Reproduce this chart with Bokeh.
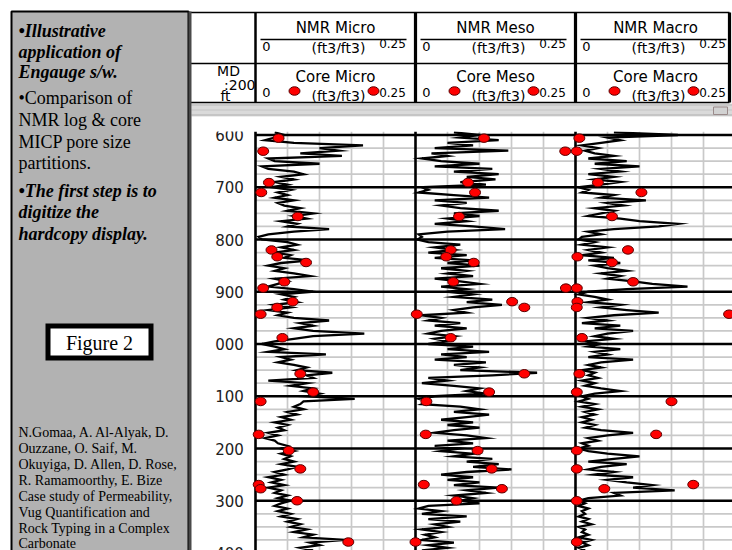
from bokeh.plotting import figure
from bokeh.models import Range1d
from bokeh.core.properties import value
from bokeh.embed import file_html
from bokeh.resources import INLINE

# ---------------- data ----------------
depth_ticks = [600, 700, 800, 900, 1000, 1100, 1200, 1300, 1400]
depth_tick_labels = ["600", "700", "800", "900", "000", "100", "200", "300", "400"]
grid_minor_step = 25
track_max = 0.25
track_grid = [0.05, 0.10, 0.15, 0.20]

nmr_top = 595
nmr_step = 5
nmr_micro = [
    0.03, 0.045, 0.03, 0.015, 0.06, 0.168, 0.10, 0.13, 0.07, 0.135, 0.02, 0.03,
    0.10, 0.01, 0.02, 0.06, 0.075, 0.04, 0.06, 0.03, 0.05, 0.025,
    0.055, 0.035, 0.05, 0.03, 0.06, 0.035, 0.045, 0.07, 0.05, 0.09,
    0.06, 0.08, 0.04, 0.065, 0.05, 0.115, 0.06, 0.02, 0.005, 0.01,
    0.05, 0.065, 0.04, 0.06, 0.03, 0.055, 0.045, 0.085, 0.04, 0.02,
    0.045, 0.03, 0.06, 0.085, 0.03, 0.05, 0.035, 0.02, 0.06, 0.09,
    0.04, 0.06, 0.045, 0.065, 0.03, 0.055, 0.02, 0.05, 0.035, 0.06,
    0.115, 0.07, 0.09, 0.06, 0.09, 0.17, 0.09, 0.06, 0.03, 0.01,
    0.03, 0.045, 0.02, 0.11, 0.04, 0.055, 0.035, 0.06, 0.08, 0.065,
    0.12, 0.08, 0.09, 0.02, 0.08, 0.055, 0.09, 0.075, 0.10, 0.08,
    0.155, 0.075, 0.07, 0.06, 0.075, 0.05, 0.065, 0.04, 0.055, 0.03,
    0.05, 0.035, 0.045, 0.02, 0.035, 0.015, 0.03, 0.035, 0.05, 0.04,
    0.06, 0.04, 0.055, 0.045, 0.06, 0.04, 0.065, 0.05, 0.03, 0.045,
    0.02, 0.04, 0.025, 0.045, 0.02, 0.04, 0.03, 0.05, 0.035, 0.055,
    0.04, 0.03, 0.05, 0.035, 0.055, 0.04, 0.065, 0.05, 0.07, 0.055,
    0.08, 0.06, 0.09, 0.075, 0.14, 0.085, 0.10, 0.07, 0.09,
]
nmr_meso = [
    0.06, 0.10, 0.07, 0.13, 0.05, 0.09, 0.03, 0.145, 0.025, 0.05, 0.01, 0.04,
    0.10, 0.03, 0.12, 0.06, 0.13, 0.08, 0.125, 0.07, 0.11, 0.01,
    0.02, 0.005, 0.06, 0.115, 0.03, 0.08, 0.04, 0.07, 0.13, 0.06,
    0.10, 0.05, 0.08, 0.03, 0.09, 0.14, 0.05, 0.005, 0.01, 0.003,
    0.02, 0.07, 0.03, 0.06, 0.02, 0.08, 0.03, 0.09, 0.05, 0.10,
    0.04, 0.08, 0.05, 0.09, 0.03, 0.07, 0.10, 0.04, 0.08, 0.05,
    0.09, 0.06, 0.12, 0.08, 0.135, 0.09, 0.06, 0.08, 0.01, 0.04,
    0.02, 0.07, 0.03, 0.08, 0.04, 0.02, 0.06, 0.03, 0.05, 0.02,
    0.09, 0.05, 0.115, 0.04, 0.08, 0.03, 0.11, 0.06, 0.10, 0.07,
    0.19, 0.12, 0.02, 0.05, 0.01, 0.06, 0.10, 0.08, 0.11, 0.03,
    0.005, 0.02, 0.01, 0.07, 0.10, 0.06, 0.115, 0.08, 0.04, 0.09,
    0.05, 0.10, 0.06, 0.03, 0.08, 0.11, 0.05, 0.09, 0.03, 0.07,
    0.04, 0.09, 0.06, 0.12, 0.08, 0.13, 0.09, 0.15, 0.08, 0.04,
    0.09, 0.05, 0.10, 0.06, 0.13, 0.08, 0.11, 0.06, 0.09, 0.07,
    0.10, 0.02, 0.005, 0.04, 0.01, 0.08, 0.02, 0.07, 0.03, 0.05,
    0.01, 0.04, 0.015, 0.03, 0.01, 0.06, 0.02, 0.05, 0.01,
]
nmr_macro = [
    0.06, 0.16, 0.05, 0.07, 0.04, 0.01, 0.035, 0.015, 0.03, 0.06, 0.02, 0.08,
    0.03, 0.10, 0.04, 0.07, 0.02, 0.06, 0.03, 0.07, 0.04, 0.005,
    0.02, 0.01, 0.06, 0.04, 0.11, 0.05, 0.075, 0.03, 0.06, 0.04,
    0.02, 0.07, 0.10, 0.16, 0.13, 0.06, 0.02, 0.04, 0.01, 0.005,
    0.03, 0.01, 0.05, 0.02, 0.04, 0.01, 0.06, 0.02, 0.07, 0.03,
    0.05, 0.08, 0.04, 0.07, 0.05, 0.09, 0.12, 0.175, 0.08, 0.02,
    0.005, 0.03, 0.05, 0.02, 0.07, 0.04, 0.08, 0.13, 0.06, 0.02,
    0.05, 0.01, 0.07, 0.03, 0.09, 0.05, 0.03, 0.06, 0.015, 0.04,
    0.02, 0.07, 0.03, 0.05, 0.02, 0.09, 0.04, 0.02, 0.04, 0.01,
    0.03, 0.02, 0.035, 0.01, 0.03, 0.015, 0.04, 0.07, 0.03, 0.01,
    0.02, 0.005, 0.03, 0.01, 0.035, 0.015, 0.03, 0.01, 0.025, 0.01,
    0.03, 0.015, 0.04, 0.09, 0.05, 0.02, 0.035, 0.01, 0.02, 0.005,
    0.02, 0.05, 0.10, 0.06, 0.02, 0.08, 0.04, 0.02, 0.06, 0.03,
    0.09, 0.05, 0.08, 0.12, 0.09, 0.155, 0.06, 0.07, 0.02, 0.005,
    0.015, 0.005, 0.02, 0.01, 0.015, 0.005, 0.02, 0.01, 0.025, 0.005,
    0.015, 0.01, 0.02, 0.005, 0.025, 0.01, 0.02, 0.005, 0.015,
]

core_depth = [606, 631, 691, 710, 756, 820, 833, 844, 881, 893, 919, 930,
              943, 988, 1057, 1092, 1110, 1173, 1204, 1239, 1269, 1277, 1300, 1379]
core_micro = [0.036, 0.012, 0.021, 0.009, 0.066, 0.025, 0.034, 0.079, 0.045, 0.012, 0.058, 0.034,
              0.008, 0.042, 0.070, 0.090, 0.008, 0.005, 0.052, 0.070, 0.005, 0.008, 0.065, 0.145]
core_meso = [0.107, 0.234, 0.082, 0.093, 0.068, 0.055, 0.048, 0.091, 0.059, 0.235, 0.151, 0.170,
             0.002, 0.055, 0.170, 0.115, 0.017, 0.016, 0.097, 0.119, 0.013, 0.135, 0.064, 0.000]
core_macro = [0.006, 0.002, 0.035, 0.103, 0.057, 0.082, 0.003, 0.057, 0.090, 0.002, 0.003, 0.002,
              0.240, 0.010, 0.006, 0.002, 0.150, 0.126, 0.002, 0.002, 0.184, 0.045, 0.002, 0.002]

nmr_titles = ["NMR Micro", "NMR Meso", "NMR Macro"]
core_titles = ["Core Micro", "Core Meso", "Core Macro"]
unit_label = "(ft3/ft3)"
scale_left = "0"
scale_right = "0.25"

panel_lines = [
    ("\u2022Illustrative", "bold italic"),
    ("application of", "bold italic"),
    ("Engauge s/w.", "bold italic"),
    ("\u2022Comparison of", "normal"),
    ("NMR log & core", "normal"),
    ("MICP pore size", "normal"),
    ("partitions.", "normal"),
    ("\u2022The first step is to", "bold italic"),
    ("digitize the", "bold italic"),
    ("hardcopy display.", "bold italic"),
]
citation_lines = [
    "N.Gomaa, A. Al-Alyak, D.",
    "Ouzzane, O. Saif, M.",
    "Okuyiga, D. Allen, D. Rose,",
    "R. Ramamoorthy, E. Bize",
    "Case study of Permeability,",
    "Vug Quantification and",
    "Rock Typing in a Complex",
    "Carbonate",
]

# ---------------- layout constants (page pixels) ----------------
W, H = 732, 550
X0, Y0 = 0, 0
track_left_px = [255, 415, 575]
track_px = 160.0
depth600_px = 134.5
px_per_ft = 0.5225
body_top_px = 131

SANS = value("DejaVu Sans")
SERIF = value("Liberation Serif")

p = figure(width=W, height=H, x_range=Range1d(X0, X0 + W), y_range=Range1d(Y0 + H, Y0),
           output_backend="svg", toolbar_location=None, min_border=0,
           x_axis_type=None, y_axis_type=None, outline_line_color=None,
           background_fill_color="white", border_fill_color="white")

d_top = 600 + (Y0 - depth600_px) / px_per_ft
d_bot = 600 + (Y0 + H - depth600_px) / px_per_ft
p.extra_y_ranges = {"depth": Range1d(start=d_bot, end=d_top)}
ppv = track_px / track_max
for i, tl in enumerate(track_left_px):
    p.extra_x_ranges["t%d" % (i + 1)] = Range1d(start=(X0 - tl) / ppv, end=(X0 + W - tl) / ppv)

body_top_depth = 600 + (body_top_px - depth600_px) / px_per_ft
minor = list(range(depth_ticks[0], depth_ticks[-1] + 1, grid_minor_step))
thin_h = [d for d in minor if d not in depth_ticks]

nmr_series = [nmr_micro, nmr_meso, nmr_macro]
core_series = [core_micro, core_meso, core_macro]

# ---- body: grids ----
for i in range(3):
    rn = "t%d" % (i + 1)
    p.segment(x0=0, x1=track_max, y0=thin_h, y1=thin_h, x_range_name=rn, y_range_name="depth",
              line_color="#c9c9c9", line_width=1.7)
    p.segment(x0=track_grid, x1=track_grid, y0=body_top_depth, y1=depth_ticks[-1] + 10,
              x_range_name=rn, y_range_name="depth", line_color="#c9c9c9", line_width=1.7)
for i in range(3):
    rn = "t%d" % (i + 1)
    p.segment(x0=0, x1=track_max, y0=depth_ticks, y1=depth_ticks, x_range_name=rn, y_range_name="depth",
              line_color="black", line_width=2.6)
    p.segment(x0=[0], x1=[0], y0=body_top_depth, y1=depth_ticks[-1] + 10,
              x_range_name=rn, y_range_name="depth", line_color="black", line_width=2.6)

# ---- body: curves & dots ----
for i in range(3):
    rn = "t%d" % (i + 1)
    vals = nmr_series[i]
    dep = [nmr_top + nmr_step * k for k in range(len(vals))]
    p.line(x=vals, y=dep, x_range_name=rn, y_range_name="depth", line_color="black",
           line_width=2.3, line_join="miter")
for i in range(3):
    rn = "t%d" % (i + 1)
    p.ellipse(x=core_series[i], y=core_depth, width=11, height=8.5, width_units="screen",
              height_units="screen", x_range_name=rn, y_range_name="depth",
              fill_color="#ff0000", line_color="#5a0000", line_width=1)

# depth labels
p.text(x=229, y=depth_ticks, text=depth_tick_labels, y_range_name="depth",
       text_font=SANS, text_font_size="15px", text_align="center", text_baseline="middle",
       text_color="#222222")

# mask above body
p.quad(left=191, right=X0 + W, top=Y0, bottom=body_top_px, fill_color="white", line_color=None)

# scroll band
p.quad(left=191, right=X0 + W, top=103, bottom=116, fill_color="#dadada", line_color=None)
p.segment(x0=191, x1=X0 + W, y0=[104.5, 109.5, 114.5], y1=[104.5, 109.5, 114.5],
          line_color=["#b8b8b8", "#c4c4c4", "#b0b0b0"], line_width=1)
p.quad(left=713, right=727, top=106.5, bottom=114, fill_color="#d2d2d2", line_color="#9a8a8a", line_width=1)

# ---- header ----
hdr_top, hdr_mid, hdr_bot, hdr_right = 12, 63, 102, 729
p.segment(x0=188, x1=hdr_right, y0=[hdr_top, hdr_mid, hdr_bot], y1=[hdr_top, hdr_mid, hdr_bot],
          line_color="black", line_width=1.5)

cx = [tl + 80 for tl in track_left_px]
p.text(x=cx, y=27.5, text=nmr_titles, text_font=SANS, text_font_size="15px",
       text_align="center", text_baseline="middle")
p.text(x=cx, y=76.5, text=core_titles, text_font=SANS, text_font_size="15px",
       text_align="center", text_baseline="middle")
for yr, yu, y25 in [(45.5, 47, 42.5), (91.5, 95, 91.5)]:
    p.text(x=[tl + 11 for tl in track_left_px], y=yr, text=[scale_left] * 3, text_font=SANS,
           text_font_size="13px", text_align="center", text_baseline="middle")
    p.text(x=[tl + 83 for tl in track_left_px], y=yu, text=[unit_label] * 3, text_font=SANS,
           text_font_size="14px", text_align="center", text_baseline="middle")
    p.text(x=[tl + 137 for tl in track_left_px], y=y25, text=[scale_right] * 3, text_font=SANS,
           text_font_size="12px", text_align="center", text_baseline="middle")
p.ellipse(x=[tl + o for tl in track_left_px for o in (39, 118)], y=90.5, width=11, height=8.5,
          width_units="screen", height_units="screen", fill_color="#ff0000",
          line_color="#5a0000", line_width=1)
p.segment(x0=[tl + 5 for tl in track_left_px], x1=[tl + 151 for tl in track_left_px],
          y0=39, y1=39, line_color="black", line_width=1.5)

p.text(x=[228, 255, 225], y=[70, 84, 95.5], text=["MD", ":200", "ft"], text_font=SANS,
       text_font_size="14px", text_align=["center", "right", "center"], text_baseline="middle")
p.segment(x0=[255], x1=[255], y0=hdr_top, y1=hdr_bot, line_color="black", line_width=2.5)
p.segment(x0=track_left_px[1:] + [hdr_right], x1=track_left_px[1:] + [hdr_right],
          y0=hdr_top, y1=hdr_bot, line_color="black", line_width=3.2)

# ---- left panel ----
p.quad(left=11, right=188, top=11, bottom=560, fill_color="#b2b2b2", line_color="black", line_width=2)
p.segment(x0=[189.5], x1=[189.5], y0=11, y1=560, line_color="#4a4a4a", line_width=3)

panel_centers = [30.5, 51.5, 71.5, 97, 119, 141, 162.5, 190, 211.5, 233.5]
bi = [i for i, (_, s) in enumerate(panel_lines) if s != "normal"]
nb = [i for i, (_, s) in enumerate(panel_lines) if s == "normal"]
p.text(x=18, y=[panel_centers[i] for i in bi], text=[panel_lines[i][0] for i in bi],
       text_font=SERIF, text_font_size="18px", text_font_style="bold italic",
       text_baseline="middle", text_align="left")
p.text(x=18, y=[panel_centers[i] for i in nb], text=[panel_lines[i][0] for i in nb],
       text_font=SERIF, text_font_size="18px", text_baseline="middle", text_align="left")

p.quad(left=45, right=153, top=323, bottom=360, fill_color="black", line_color=None)
p.quad(left=50, right=148, top=328, bottom=355, fill_color="white", line_color=None)
p.text(x=99, y=342, text=["Figure 2"], text_font=SERIF, text_font_size="20px",
       text_align="center", text_baseline="middle")

cit_centers = [431.5, 447.6, 463.7, 479.8, 495.9, 512, 528.1, 543.2]
p.text(x=18, y=cit_centers, text=citation_lines, text_font=SERIF, text_font_size="14px",
       text_align="left", text_baseline="middle")

open("out.html", "w").write(file_html(p, INLINE))
